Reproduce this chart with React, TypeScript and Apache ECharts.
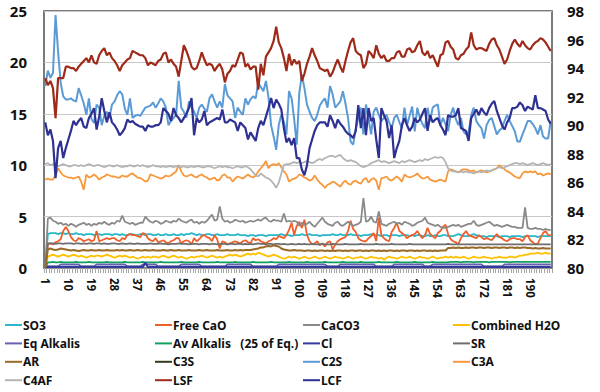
import React, { useEffect, useRef } from "react";
import * as echarts from "echarts";

// Sample numbers 1..198 on the category axis
const categories: string[] = Array.from({ length: 198 }, (_, i) => String(i + 1));

const so3 = [
  0, 3.3, 3.4, 3.4, 3.4, 3.3, 3.4, 3.4, 3.3, 3.4,
  3.3, 3.3, 3.4, 3.3, 3.3, 3.2, 3.3, 3.3, 3.3, 3.2,
  3.3, 3.3, 3.2, 3.3, 3.3, 3.3, 3.2, 3.3, 3.3, 3.2,
  3.3, 3.2, 3.2, 3.3, 3.3, 3.2, 3.2, 3.3, 3.3, 3.2,
  3.3, 3.3, 3.2, 3.2, 3.3, 3.2, 3.2, 3.3, 3.2, 3.2,
  3.3, 3.2, 3.2, 3.3, 3.2, 3.3, 3.3, 3.4, 3.3, 3.2,
  3.3, 3.2, 3.2, 3.3, 3.3, 3.2, 3.2, 3.3, 3.2, 3.2,
  3.2, 3.3, 3.2, 3.2, 3.2, 3.3, 3.2, 3.2, 3.2, 3.1,
  3.2, 3.2, 3.1, 3.2, 3.2, 3.2, 3.1, 3.2, 3.2, 3.2,
  3.2, 3.2, 3.3, 3.2, 3.2, 3.2, 3.1, 3.2, 3.2, 3.2,
  3.3, 3.2, 3.2, 3.3, 3.2, 3.2, 3.2, 3.1, 3.2, 3.2,
  3.2, 3.2, 3.3, 3.2, 3.2, 3.3, 3.2, 3.2, 3.2, 3.3,
  3.2, 3.2, 3.2, 3.1, 3.2, 3.2, 3.2, 3.3, 3.2, 3.2,
  3.2, 3.1, 3.2, 3.2, 3.1, 3.2, 3.2, 3.2, 3.1, 3.2,
  3.2, 3.2, 3.1, 3.2, 3.1, 3.2, 3.2, 3.1, 3.1, 3.2,
  3.1, 3.1, 3.2, 3.1, 3.1, 3.2, 3.2, 3.1, 3.1, 3.1,
  3.2, 3.3, 3.2, 3.1, 3.1, 3.1, 3.2, 3.3, 3.2, 3.1,
  3.1, 3.1, 3.0, 3.1, 3.1, 3.1, 3.1, 3.0, 3.1, 3.1,
  3.1, 3.0, 3.1, 3.1, 3.1, 3.1, 3.0, 3.1, 3.1, 3.1,
  3.1, 3.1, 3.0, 3.1, 3.1, 3.1, 3.1, 3.1,
];

const freeCaO = [
  0, 2.3, 2.4, 2.3, 2.5, 2.6, 2.8, 3.6, 4.0, 3.6,
  3.0, 2.7, 2.6, 2.9, 2.8, 2.6, 2.7, 2.8, 2.6, 2.7,
  3.6, 2.6, 2.7, 2.8, 2.9, 2.8, 2.9, 2.9, 2.7, 2.6,
  2.9, 2.8, 3.2, 3.3, 3.2, 3.2, 3.1, 3.0, 3.4, 3.3,
  2.9, 2.7, 2.6, 2.9, 2.5, 2.6, 2.7, 2.5, 2.4, 2.6,
  2.7, 2.9, 2.9, 2.4, 2.6, 2.7, 2.6, 2.3, 2.9, 2.6,
  2.8, 3.1, 3.2, 3.0, 2.9, 2.6, 3.2, 2.8, 1.9, 2.6,
  2.5, 2.3, 2.4, 2.5, 2.6, 2.5, 2.4, 2.6, 2.7, 2.5,
  2.4, 2.9, 2.7, 2.8, 2.6, 2.5, 2.4, 2.6, 2.7, 2.9,
  2.8, 3.1, 3.0, 2.9, 3.2, 3.7, 4.4, 3.2, 4.1, 4.5,
  3.9, 4.7, 3.2, 2.6, 2.3, 2.4, 2.6, 2.2, 2.4, 2.1,
  2.5, 2.6, 1.8, 2.3, 2.6, 2.8, 2.9, 3.0, 3.6, 4.6,
  3.8, 3.5, 2.9, 2.7, 2.6, 2.6, 2.9, 3.1, 3.4, 2.6,
  4.9, 3.2, 2.9, 2.7, 2.6, 3.5, 3.9, 4.4, 3.6, 3.4,
  3.2, 2.9, 3.1, 3.2, 3.3, 3.6, 3.2, 2.9, 3.2, 3.9,
  3.3, 3.1, 2.9, 3.4, 3.6, 4.0, 4.2, 3.3, 2.8, 2.6,
  2.5, 2.3, 2.9, 3.3, 3.6, 3.2, 3.1, 3.0, 2.9, 3.2,
  3.0, 2.8, 2.9, 2.8, 2.7, 3.0, 3.3, 3.0, 2.9, 2.7,
  2.6, 2.8, 2.9, 2.9, 2.8, 2.8, 2.6, 3.0, 3.2, 2.7,
  2.5, 2.3, 2.4, 2.9, 3.4, 3.6, 3.2, 3.2,
];

const caco3 = [
  0, 4.8, 4.9, 4.6, 4.5, 4.3, 4.4, 4.2, 4.3, 4.1,
  4.3, 4.2, 4.0, 4.2, 4.3, 4.4, 4.2, 4.3, 4.1, 4.3,
  4.2, 4.4, 4.3, 4.5, 4.3, 4.2, 4.4, 4.3, 4.6, 4.5,
  5.1, 4.5, 4.4, 4.3, 4.4, 4.2, 4.3, 4.4, 4.4, 5.0,
  4.7, 4.5, 4.4, 4.6, 4.5, 4.3, 4.4, 4.6, 4.5, 4.4,
  4.6, 4.5, 4.8, 4.6, 4.5, 4.4, 4.6, 4.7, 4.4, 4.5,
  4.3, 4.5, 4.4, 4.6, 4.9, 5.2, 4.6, 4.7, 6.0, 4.8,
  4.5, 4.6, 4.4, 4.5, 4.7, 4.6, 4.5, 4.6, 4.4, 4.5,
  4.6, 4.5, 4.6, 4.7, 4.6, 4.8, 4.9, 4.6, 4.5, 4.7,
  4.6, 4.6, 4.5, 5.3, 4.5, 4.6, 4.5, 4.6, 4.5, 4.1,
  4.4, 4.2, 4.3, 4.5, 4.2, 4.0, 4.3, 4.6, 4.9, 4.5,
  4.3, 4.2, 4.1, 4.4, 4.5, 4.2, 4.1, 4.3, 4.5, 4.3,
  4.1, 4.2, 4.3, 4.5, 6.8, 4.5, 4.6, 5.0, 4.5, 4.4,
  5.5, 4.3, 4.2, 4.1, 4.3, 4.4, 4.5, 4.3, 4.4, 4.2,
  4.5, 4.4, 4.3, 4.1, 4.2, 4.4, 4.5, 4.6, 4.9, 4.4,
  4.3, 4.2, 4.1, 4.2, 4.0, 3.9, 3.9, 4.0, 4.1, 4.2,
  4.1, 4.2, 4.0, 4.1, 4.2, 4.3, 4.3, 4.6, 4.2, 4.1,
  4.2, 4.3, 4.4, 4.5, 4.3, 4.1, 4.2, 4.1, 4.0, 4.1,
  4.2, 4.1, 4.0, 4.0, 3.9, 3.9, 3.9, 5.9, 3.9, 3.8,
  3.8, 3.9, 3.8, 3.8, 3.7, 3.8, 3.7, 3.7,
];

const combinedH2O = [
  0, 1.1, 1.2, 1.3, 1.2, 1.1, 1.2, 1.3, 1.2, 1.1,
  1.2, 1.3, 1.2, 1.1, 1.2, 1.1, 1.0, 1.1, 1.2, 1.1,
  1.2, 1.2, 1.1, 1.2, 1.3, 1.2, 1.1, 1.0, 1.1, 1.2,
  1.1, 1.2, 1.1, 1.0, 1.1, 1.0, 0.9, 1.0, 1.1, 1.0,
  1.1, 1.0, 1.1, 1.1, 1.0, 1.1, 1.2, 1.1, 1.0, 1.1,
  1.2, 1.1, 1.0, 1.1, 1.0, 0.9, 1.0, 1.1, 1.0, 1.1,
  1.1, 1.2, 1.1, 1.0, 1.1, 1.2, 1.1, 1.0, 1.1, 1.0,
  1.1, 1.2, 1.3, 1.2, 1.3, 1.2, 1.1, 1.2, 1.3, 1.4,
  1.3, 1.4, 1.3, 1.5, 1.4, 1.3, 1.2, 1.1, 1.2, 1.3,
  1.2, 1.1, 1.0, 0.9, 1.0, 1.1, 1.0, 1.1, 1.0, 0.9,
  1.0, 1.1, 1.0, 0.9, 1.0, 1.1, 1.0, 0.9, 1.0, 1.1,
  1.0, 0.9, 1.0, 1.1, 1.0, 1.0, 0.9, 1.0, 1.1, 1.0,
  0.9, 1.0, 1.0, 1.1, 1.0, 0.9, 1.0, 1.1, 1.0, 1.0,
  0.9, 1.0, 0.8, 1.0, 1.1, 1.0, 1.0, 0.9, 1.0, 1.1,
  1.0, 1.0, 1.1, 1.0, 0.9, 1.0, 1.1, 1.0, 1.0, 0.9,
  1.0, 1.1, 1.0, 0.9, 1.0, 1.0, 1.1, 1.0, 1.1, 1.0,
  1.1, 1.0, 1.0, 1.1, 1.0, 0.9, 1.0, 1.1, 1.0, 1.0,
  1.0, 1.1, 1.0, 1.0, 0.9, 1.0, 1.0, 1.1, 1.0, 1.0,
  1.0, 1.1, 1.1, 1.0, 1.1, 1.2, 1.2, 1.3, 1.3, 1.4,
  1.4, 1.4, 1.5, 1.4, 1.4, 1.5, 1.4, 1.4,
];

const eqAlkalis = [
  0, 0.15, 0.15, 0.15, 0.15, 0.15, 0.35, 0.35, 0.35, 0.35,
  0.35, 0.35, 0.35, 0.35, 0.15, 0.15, 0.15, 0.15, 0.15, 0.15,
  0.35, 0.35, 0.35, 0.35, 0.35, 0.35, 0.35, 0.35, 0.35, 0.35,
  0.35, 0.35, 0.15, 0.15, 0.15, 0.15, 0.15, 0.15, 0.35, 0.35,
  0.35, 0.35, 0.35, 0.35, 0.15, 0.15, 0.15, 0.15, 0.15, 0.15,
  0.15, 0.15, 0.15, 0.35, 0.35, 0.35, 0.35, 0.35, 0.35, 0.35,
  0.35, 0.15, 0.15, 0.15, 0.15, 0.15, 0.15, 0.15, 0.15, 0.15,
  0.15, 0.35, 0.35, 0.35, 0.35, 0.35, 0.35, 0.35, 0.35, 0.35,
  0.35, 0.15, 0.15, 0.15, 0.15, 0.15, 0.15, 0.15, 0.15, 0.15,
  0.15, 0.35, 0.35, 0.35, 0.35, 0.35, 0.35, 0.35, 0.35, 0.35,
  0.35, 0.35, 0.35, 0.35, 0.35, 0.35, 0.35, 0.35, 0.35, 0.35,
  0.15, 0.15, 0.15, 0.15, 0.15, 0.35, 0.35, 0.35, 0.35, 0.35,
  0.35, 0.35, 0.35, 0.35, 0.35, 0.35, 0.35, 0.35, 0.35, 0.15,
  0.15, 0.15, 0.15, 0.15, 0.15, 0.15, 0.35, 0.35, 0.35, 0.35,
  0.35, 0.35, 0.35, 0.35, 0.35, 0.35, 0.35, 0.35, 0.15, 0.15,
  0.15, 0.35, 0.35, 0.35, 0.35, 0.35, 0.35, 0.35, 0.35, 0.35,
  0.35, 0.35, 0.35, 0.35, 0.35, 0.35, 0.35, 0.35, 0.35, 0.35,
  0.35, 0.15, 0.15, 0.15, 0.15, 0.15, 0.15, 0.15, 0.15, 0.35,
  0.35, 0.35, 0.35, 0.35, 0.35, 0.35, 0.35, 0.35, 0.35, 0.35,
  0.35, 0.35, 0.35, 0.35, 0.35, 0.35, 0.35, 0.35,
];

const avAlkalis = [
  0, 0.55, 0.55, 0.6, 0.55, 0.55, 0.6, 0.55, 0.55, 0.55,
  0.55, 0.55, 0.6, 0.55, 0.55, 0.55, 0.55, 0.6, 0.55, 0.55,
  0.55, 0.55, 0.55, 0.55, 0.6, 0.55, 0.55, 0.55, 0.55, 0.55,
  0.55, 0.6, 0.55, 0.55, 0.55, 0.55, 0.55, 0.55, 0.6, 0.55,
  0.55, 0.55, 0.55, 0.55, 0.55, 0.6, 0.55, 0.55, 0.55, 0.55,
  0.55, 0.55, 0.55, 0.6, 0.55, 0.55, 0.55, 0.55, 0.55, 0.55,
  0.6, 0.55, 0.55, 0.55, 0.55, 0.55, 0.55, 0.6, 0.55, 0.55,
  0.55, 0.55, 0.55, 0.55, 0.6, 0.55, 0.55, 0.55, 0.55, 0.55,
  0.55, 0.6, 0.55, 0.55, 0.55, 0.55, 0.55, 0.55, 0.6, 0.55,
  0.55, 0.55, 0.55, 0.55, 0.55, 0.6, 0.55, 0.55, 0.55, 0.55,
  0.55, 0.55, 0.6, 0.55, 0.55, 0.55, 0.55, 0.55, 0.55, 0.6,
  0.55, 0.55, 0.55, 0.55, 0.55, 0.55, 0.6, 0.55, 0.55, 0.55,
  0.55, 0.55, 0.55, 0.6, 0.55, 0.55, 0.55, 0.55, 0.55, 0.55,
  0.6, 0.55, 0.55, 0.55, 0.55, 0.55, 0.55, 0.6, 0.55, 0.55,
  0.55, 0.55, 0.55, 0.55, 0.6, 0.55, 0.55, 0.55, 0.55, 0.55,
  0.55, 0.6, 0.55, 0.55, 0.55, 0.55, 0.55, 0.55, 0.6, 0.6,
  0.6, 0.6, 0.55, 0.6, 0.6, 0.6, 0.6, 0.55, 0.6, 0.6,
  0.6, 0.6, 0.6, 0.55, 0.6, 0.6, 0.6, 0.6, 0.6, 0.6,
  0.6, 0.55, 0.6, 0.6, 0.6, 0.6, 0.6, 0.6, 0.6, 0.6,
  0.6, 0.6, 0.6, 0.6, 0.6, 0.6, 0.6, 0.6,
];

const cl = [
  0.1, 0.1, 0.1, 0.1, 0.1, 0.1, 0.1, 0.1, 0.1, 0.1,
  0.1, 0.1, 0.1, 0.1, 0.1, 0.1, 0.1, 0.1, 0.1, 0.1,
  0.1, 0.1, 0.1, 0.1, 0.1, 0.1, 0.1, 0.1, 0.1, 0.1,
  0.1, 0.1, 0.1, 0.1, 0.1, 0.1, 0.1, 0.1, 0.1, 0.5,
  0.1, 0.1, 0.1, 0.1, 0.1, 0.1, 0.1, 0.1, 0.1, 0.1,
  0.1, 0.1, 0.1, 0.1, 0.1, 0.1, 0.1, 0.1, 0.1, 0.1,
  0.1, 0.1, 0.1, 0.1, 0.1, 0.1, 0.1, 0.1, 0.1, 0.1,
  0.1, 0.1, 0.1, 0.1, 0.1, 0.1, 0.1, 0.1, 0.1, 0.1,
  0.1, 0.1, 0.1, 0.1, 0.1, 0.1, 0.1, 0.1, 0.1, 0.1,
  0.1, 0.1, 0.1, 0.1, 0.1, 0.1, 0.1, 0.1, 0.1, 0.1,
  0.1, 0.1, 0.1, 0.1, 0.1, 0.1, 0.1, 0.1, 0.1, 0.1,
  0.1, 0.1, 0.1, 0.1, 0.1, 0.1, 0.1, 0.1, 0.1, 0.1,
  0.1, 0.1, 0.1, 0.1, 0.1, 0.1, 0.1, 0.1, 0.1, 0.1,
  0.1, 0.1, 0.1, 0.1, 0.1, 0.1, 0.1, 0.1, 0.1, 0.1,
  0.1, 0.1, 0.1, 0.1, 0.1, 0.1, 0.1, 0.1, 0.1, 0.1,
  0.1, 0.1, 0.1, 0.1, 0.1, 0.1, 0.1, 0.1, 0.1, 0.1,
  0.1, 0.1, 0.1, 0.1, 0.1, 0.1, 0.1, 0.1, 0.1, 0.1,
  0.1, 0.1, 0.1, 0.1, 0.1, 0.1, 0.1, 0.1, 0.1, 0.1,
  0.1, 0.1, 0.1, 0.1, 0.1, 0.1, 0.1, 0.1, 0.1, 0.1,
  0.1, 0.1, 0.1, 0.1, 0.1, 0.1, 0.1, 0.1,
];

const sr = [
  0, 2.4, 2.4, 2.4, 2.35, 2.4, 2.4, 2.35, 2.4, 2.4,
  2.4, 2.35, 2.4, 2.4, 2.35, 2.4, 2.35, 2.4, 2.4, 2.35,
  2.4, 2.4, 2.35, 2.4, 2.35, 2.35, 2.4, 2.4, 2.35, 2.35,
  2.4, 2.35, 2.35, 2.4, 2.35, 2.35, 2.4, 2.35, 2.35, 2.35,
  2.35, 2.4, 2.35, 2.35, 2.35, 2.4, 2.35, 2.35, 2.3, 2.35,
  2.35, 2.35, 2.4, 2.35, 2.35, 2.35, 2.3, 2.35, 2.35, 2.35,
  2.3, 2.35, 2.35, 2.35, 2.3, 2.35, 2.35, 2.3, 2.35, 2.35,
  2.35, 2.3, 2.35, 2.35, 2.3, 2.35, 2.35, 2.3, 2.35, 2.3,
  2.35, 2.3, 2.35, 2.4, 2.35, 2.35, 2.3, 2.35, 2.35, 2.3,
  2.35, 2.35, 2.3, 2.35, 2.3, 2.3, 2.35, 2.3, 2.3, 2.35,
  2.3, 2.35, 2.3, 2.3, 2.35, 2.3, 2.3, 2.3, 2.35, 2.3,
  2.3, 2.3, 2.35, 2.3, 2.3, 2.3, 2.3, 2.35, 2.3, 2.3,
  2.3, 2.3, 2.3, 2.35, 2.3, 2.3, 2.3, 2.3, 2.3, 2.35,
  2.3, 2.3, 2.3, 2.3, 2.3, 2.35, 2.3, 2.3, 2.3, 2.3,
  2.3, 2.3, 2.35, 2.3, 2.3, 2.3, 2.3, 2.3, 2.3, 2.3,
  2.3, 2.3, 2.3, 2.3, 2.3, 2.3, 2.3, 2.35, 2.3, 2.3,
  2.3, 2.3, 2.3, 2.3, 2.3, 2.3, 2.3, 2.3, 2.3, 2.3,
  2.3, 2.3, 2.3, 2.3, 2.3, 2.3, 2.3, 2.3, 2.3, 2.3,
  2.3, 2.3, 2.3, 2.3, 2.3, 2.3, 2.3, 2.3, 2.3, 2.3,
  2.3, 2.3, 2.3, 2.3, 2.3, 2.3, 2.3, 2.3,
];

const ar = [
  0, 1.8, 1.9, 1.8, 1.75, 1.8, 1.9, 1.85, 1.8, 1.75,
  1.7, 1.75, 1.7, 1.65, 1.7, 1.75, 1.7, 1.7, 1.75, 1.7,
  1.7, 1.75, 1.7, 1.7, 1.75, 1.7, 1.7, 1.7, 1.75, 1.7,
  1.75, 1.7, 1.7, 1.75, 1.7, 1.7, 1.75, 1.7, 1.7, 1.75,
  1.7, 1.7, 1.75, 1.7, 1.7, 1.7, 1.75, 1.7, 1.7, 1.75,
  1.7, 1.7, 1.75, 1.7, 1.7, 1.7, 1.75, 1.7, 1.7, 1.7,
  1.75, 1.7, 1.7, 1.75, 1.7, 1.7, 1.7, 1.75, 1.7, 1.7,
  1.7, 1.75, 1.7, 1.7, 1.75, 1.7, 1.75, 1.7, 1.75, 1.75,
  1.75, 1.8, 1.85, 1.9, 2.0, 2.0, 2.1, 2.15, 2.1, 2.2,
  2.15, 2.1, 1.9, 1.8, 1.75, 1.7, 1.7, 1.75, 1.7, 1.7,
  1.7, 1.65, 1.7, 1.7, 1.65, 1.7, 1.65, 1.7, 1.7, 1.65,
  1.7, 1.65, 1.7, 1.65, 1.7, 1.7, 1.65, 1.7, 1.65, 1.7,
  1.7, 1.65, 1.7, 1.7, 1.65, 1.7, 1.65, 1.7, 1.7, 1.65,
  1.7, 1.65, 1.7, 1.65, 1.7, 1.7, 1.65, 1.7, 1.65, 1.7,
  1.7, 1.65, 1.7, 1.7, 1.65, 1.7, 1.65, 1.7, 1.7, 1.65,
  1.7, 1.65, 1.7, 1.65, 1.7, 1.7, 1.7, 1.95, 1.95, 2.0,
  1.95, 2.0, 1.95, 1.95, 2.0, 1.95, 2.0, 2.0, 1.95, 2.0,
  2.0, 1.95, 2.0, 2.0, 1.95, 2.0, 2.0, 1.95, 2.0, 2.0,
  1.95, 2.0, 2.0, 1.95, 2.0, 1.95, 2.0, 2.0, 1.95, 1.95,
  1.9, 1.95, 1.9, 1.9, 1.95, 1.9, 1.9, 1.9,
];

// C3S lies far outside both axis ranges in the reference, so no point of it is visible
const c3s: number[] = [];

const c2s = [
  17.7, 19.2, 18.5, 19.0, 24.6, 21.0, 18.0, 16.7, 16.4, 16.4,
  16.5, 16.3, 16.2, 17.5, 16.8, 16.0, 14.9, 16.5, 14.5, 14.1,
  15.9, 15.6, 13.9, 14.8, 15.2, 14.6, 15.9, 16.2, 16.8, 17.2,
  16.9, 15.5, 14.9, 16.5, 14.6, 14.8, 14.9, 14.8, 15.2, 15.6,
  15.7, 15.8, 16.1, 15.6, 16.0, 16.5, 16.2, 15.6, 13.9, 14.3,
  14.6, 14.9, 18.2, 15.6, 15.2, 14.6, 16.2, 15.6, 15.2, 14.6,
  15.6, 15.9, 15.5, 15.2, 16.5, 16.9, 16.2, 15.6, 16.2, 15.6,
  17.9, 16.8, 16.5, 16.2, 14.6, 15.6, 15.2, 14.9, 16.5, 15.9,
  16.4, 16.7, 16.5, 18.0, 17.6, 17.2, 18.2, 16.6, 13.9, 12.8,
  11.5, 13.9, 14.9, 14.2, 13.0, 17.2, 16.5, 14.5, 12.0, 17.0,
  18.8, 17.5, 15.9, 15.2, 14.6, 14.3, 14.9, 15.8, 16.2, 16.5,
  15.6, 17.7, 16.9, 15.6, 15.9, 16.2, 17.2, 16.0, 14.6, 12.3,
  12.0, 13.5, 14.6, 15.6, 13.0, 15.9, 14.5, 13.0, 15.2, 15.6,
  14.9, 14.3, 14.6, 14.9, 14.2, 13.6, 14.6, 14.9, 14.2, 13.6,
  15.6, 13.9, 14.8, 15.7, 13.3, 15.6, 14.6, 14.0, 13.6, 15.6,
  14.3, 15.6, 15.8, 15.9, 13.9, 14.6, 14.0, 13.3, 14.9, 15.6,
  14.5, 13.9, 14.6, 13.3, 13.0, 13.2, 14.9, 15.6, 14.3, 13.9,
  13.6, 12.6, 13.9, 14.4, 14.6, 13.8, 13.0, 13.4, 13.6, 14.3,
  14.9, 14.3, 13.8, 13.3, 12.3, 12.3, 13.0, 13.6, 14.3, 14.3,
  14.0, 13.6, 13.0, 13.9, 12.8, 12.6, 12.6, 14.3,
];

const c3a = [
  8.6, 8.7, 8.6, 8.6, 9.0, 9.7, 9.3, 9.0, 8.9, 8.8,
  8.8, 8.7, 8.8, 8.9, 8.4, 7.6, 9.1, 8.8, 8.9, 9.1,
  8.9, 8.6, 8.8, 8.9, 9.1, 9.0, 8.9, 8.9, 8.8, 8.8,
  9.0, 8.9, 8.9, 9.1, 9.2, 9.0, 8.8, 8.75, 8.6, 8.4,
  8.5, 9.1, 9.0, 8.9, 8.8, 8.7, 8.8, 9.0, 8.9, 9.0,
  9.2, 9.4, 10.0, 9.4, 9.0, 8.9, 9.0, 9.1, 8.9, 8.8,
  9.0, 9.1, 8.9, 8.8, 8.6, 8.7, 8.8, 8.5, 8.6, 9.0,
  9.1, 8.8, 8.8, 8.4, 8.7, 8.9, 8.8, 8.7, 8.9, 9.1,
  8.9, 8.8, 9.0, 9.4, 9.7, 10.0, 10.4, 9.7, 10.0, 10.1,
  10.0, 10.2, 9.8, 9.4, 9.1, 8.4, 8.6, 8.7, 8.8, 9.1,
  9.0, 8.8, 8.7, 8.5, 8.6, 9.0, 8.6, 8.3, 8.1, 7.8,
  8.1, 8.2, 8.4, 8.3, 8.1, 7.9, 8.3, 8.5, 8.2, 8.1,
  8.4, 8.5, 8.3, 8.2, 8.6, 8.75, 8.3, 8.6, 8.75, 8.5,
  7.6, 8.75, 8.8, 8.9, 8.6, 8.5, 8.7, 8.9, 8.7, 8.4,
  9.1, 8.9, 8.8, 8.9, 9.0, 9.2, 8.9, 8.7, 8.75, 8.9,
  8.6, 8.5, 8.4, 8.5, 8.6, 8.5, 8.4, 9.4, 9.6, 9.5,
  9.4, 9.3, 9.5, 9.6, 9.6, 9.5, 9.4, 9.5, 9.3, 9.4,
  9.5, 9.4, 9.3, 9.4, 9.5, 9.6, 9.7, 10.0, 9.8, 9.6,
  9.4, 9.3, 9.1, 8.9, 8.8, 8.75, 9.2, 9.4, 9.3, 9.4,
  9.3, 9.4, 9.1, 9.2, 9.0, 9.1, 9.2, 9.1,
];

const c4af = [
  10.1, 10.2, 10.0, 10.1, 10.0, 9.9, 10.0, 10.1, 10.0, 9.9,
  9.9, 10.0, 10.0, 9.9, 10.0, 9.9, 10.0, 10.1, 10.0, 9.9,
  10.0, 10.0, 9.9, 9.8, 9.9, 10.0, 9.9, 9.9, 10.0, 9.9,
  9.8, 9.9, 9.9, 10.0, 9.9, 9.9, 10.0, 9.9, 10.0, 9.9,
  9.8, 9.9, 10.0, 9.9, 9.9, 9.8, 9.9, 9.8, 9.9, 9.9,
  9.8, 9.9, 9.9, 9.8, 9.9, 9.8, 9.8, 9.9, 9.8, 9.9,
  9.9, 9.8, 9.8, 9.9, 9.9, 9.8, 9.7, 9.8, 9.9, 9.8,
  9.9, 9.8, 9.8, 9.7, 9.8, 9.9, 9.8, 9.8, 9.9, 9.8,
  9.6, 9.3, 9.0, 8.9, 9.2, 9.0, 8.8, 8.7, 8.5, 8.2,
  7.8, 8.3, 9.2, 10.0, 10.1, 10.1, 10.2, 10.3, 10.2, 10.3,
  10.2, 10.3, 10.4, 10.3, 10.2, 10.3, 10.5, 10.6, 10.5, 10.7,
  10.8, 10.9, 10.9, 10.8, 10.9, 11.0, 10.7, 10.5, 10.4, 10.5,
  10.4, 10.3, 10.1, 9.9, 9.8, 9.9, 10.0, 10.2, 10.3, 10.4,
  10.5, 10.3, 10.4, 10.3, 10.2, 10.3, 10.4, 10.3, 10.2, 10.4,
  10.3, 10.4, 10.5, 10.4, 10.3, 10.4, 10.5, 10.4, 10.6, 10.5,
  10.6, 10.7, 10.8, 10.7, 10.8, 10.7, 10.3, 9.7, 9.5, 9.4,
  9.4, 9.3, 9.4, 9.3, 9.4, 9.3, 9.3, 9.2, 9.3, 9.4,
  9.3, 9.4, 9.5, 9.4, 9.5, 9.6, 9.7, 9.8, 9.7, 9.8,
  9.9, 10.0, 10.1, 10.2, 10.2, 10.1, 10.2, 10.1, 10.0, 10.1,
  10.2, 10.1, 10.0, 10.1, 10.2, 10.1, 10.0, 10.1,
];

const lsf = [
  93.3, 92.8, 93.1, 92.6, 90.5, 93.3, 93.3, 93.3, 94.1, 94.1,
  94.0, 94.0, 93.8, 94.1, 94.3, 94.5, 94.7, 94.4, 94.9, 94.4,
  94.3, 94.9, 95.2, 95.4, 94.9, 95.1, 94.7, 94.5, 94.2, 93.8,
  94.2, 94.4, 94.6, 94.7, 95.2, 95.1, 95.0, 94.9, 94.9, 94.7,
  94.2, 94.4, 94.3, 94.2, 94.5, 94.6, 95.0, 95.1, 94.4, 94.6,
  94.3, 94.1, 93.4, 94.5, 95.6, 95.2, 94.7, 94.1, 93.9, 94.0,
  94.5, 95.1, 94.6, 94.2, 94.3, 94.2, 93.8, 94.1, 94.3, 93.9,
  93.0, 93.6, 93.8, 94.2, 94.1, 94.6, 95.1, 95.0, 94.1, 94.3,
  93.9, 94.1, 94.1, 92.5, 94.3, 93.5, 94.8, 95.1, 95.4, 95.9,
  96.9, 95.8, 95.4, 94.7, 93.8, 95.0, 94.2, 94.6, 94.3, 94.5,
  93.1, 93.6, 94.3, 94.8, 95.4, 94.9, 94.5, 94.0, 93.9, 93.8,
  93.9, 93.4, 93.7, 94.2, 94.6, 94.1, 93.7, 94.5, 95.2, 95.8,
  96.1, 95.2, 95.0, 94.9, 94.0, 94.3, 95.2, 95.0, 94.7, 95.6,
  95.0, 94.7, 94.9, 94.5, 94.5, 94.7, 94.7, 95.1, 95.2, 94.8,
  94.8, 95.3, 95.4, 95.1, 95.2, 95.6, 95.9, 95.1, 94.9, 95.2,
  94.7, 94.9, 94.5, 94.1, 94.9, 95.0, 95.8, 95.9, 95.5, 95.3,
  94.7, 94.6, 94.9, 95.0, 95.3, 95.5, 96.5, 95.6, 95.3, 95.4,
  95.4, 95.3, 95.2, 95.7, 96.0, 96.1, 95.6, 95.3, 94.8, 94.3,
  94.6, 95.2, 95.7, 96.0, 95.7, 95.5, 95.9, 95.6, 95.4, 95.3,
  95.6, 95.8, 95.9, 96.1, 96.0, 95.8, 95.5, 95.2,
];

const lcf = [
  90.2, 89.3, 89.7, 88.9, 86.3, 88.4, 88.9, 87.7, 88.4, 89.0,
  89.6, 90.3, 90.0, 90.3, 90.5, 89.9, 89.8, 90.5, 90.8, 91.2,
  89.7, 90.6, 91.9, 91.0, 90.2, 90.9, 90.2, 90.0, 89.7, 89.3,
  89.5, 89.8, 90.4, 90.2, 90.3, 90.1, 90.0, 89.9, 89.9, 89.6,
  90.0, 89.9, 89.9, 90.0, 90.0, 90.2, 91.2, 91.0, 90.8, 90.3,
  91.2, 90.7, 90.5, 90.2, 90.5, 90.8, 91.2, 91.9, 89.3, 90.5,
  90.2, 90.4, 91.0, 90.0, 90.2, 90.3, 90.4, 90.5, 90.4, 91.1,
  90.2, 90.2, 90.4, 90.3, 90.2, 89.6, 90.2, 90.0, 89.8, 89.0,
  89.5, 89.2, 88.9, 89.8, 90.3, 90.0, 90.6, 91.2, 91.9, 91.2,
  91.8, 91.5, 91.1, 89.8, 88.8, 89.1, 88.6, 89.1, 87.7, 87.7,
  86.9, 86.5, 87.2, 88.4, 89.0, 89.6, 90.0, 90.2, 90.2, 90.2,
  89.9, 90.7, 90.3, 89.8, 90.4, 90.1, 89.9, 89.6, 89.4, 89.3,
  89.1, 89.6, 91.4, 89.8, 91.2, 89.3, 91.2, 90.3, 90.5, 89.0,
  87.7, 91.2, 90.7, 90.3, 89.1, 90.0, 87.7, 88.4, 88.9, 90.0,
  90.5, 90.0, 89.6, 89.9, 90.5, 90.2, 90.4, 90.8, 91.2, 89.6,
  90.7, 90.2, 90.4, 90.5, 90.0, 89.7, 89.3, 90.7, 90.6, 90.6,
  90.7, 91.2, 89.8, 89.7, 89.6, 88.9, 90.5, 90.8, 91.1, 90.7,
  91.2, 90.9, 90.7, 91.2, 91.5, 91.7, 91.0, 90.5, 90.0, 89.7,
  90.2, 90.5, 91.2, 91.2, 91.3, 91.6, 91.4, 91.0, 91.3, 91.2,
  91.1, 92.1, 91.2, 91.2, 91.1, 91.0, 90.4, 90.1,
];

const leftTicks = { min: 0, max: 25, interval: 5 };
const rightTicks = { min: 80, max: 98, interval: 2 };

const AV_NAME = "Av Alkalis   (25 of Eq.)";

const seriesDefs = [
  { name: "SO3", data: so3, color: "#2bb7c9", axis: 0, width: 1.8 },
  { name: "Free CaO", data: freeCaO, color: "#ef5f2b", axis: 0, width: 1.8 },
  { name: "CaCO3", data: caco3, color: "#8a8a8a", axis: 0, width: 1.8 },
  { name: "Combined H2O", data: combinedH2O, color: "#ffc000", axis: 0, width: 1.8 },
  { name: "Eq Alkalis", data: eqAlkalis, color: "#6a5fb0", axis: 0, width: 1.8 },
  { name: AV_NAME, data: avAlkalis, color: "#12a060", axis: 0, width: 1.8 },
  { name: "Cl", data: cl, color: "#323a9c", axis: 0, width: 2.2 },
  { name: "SR", data: sr, color: "#6e6e6e", axis: 0, width: 1.8 },
  { name: "AR", data: ar, color: "#9a6a28", axis: 0, width: 2 },
  { name: "C3S", data: c3s, color: "#363a1c", axis: 1, width: 1.8 },
  { name: "C2S", data: c2s, color: "#5b9bd5", axis: 0, width: 2 },
  { name: "C3A", data: c3a, color: "#f7983a", axis: 0, width: 1.8 },
  { name: "C4AF", data: c4af, color: "#b4b4b4", axis: 0, width: 1.8 },
  { name: "LSF", data: lsf, color: "#9e2a1a", axis: 1, width: 2.2 },
  { name: "LCF", data: lcf, color: "#2e3192", axis: 1, width: 2.2 },
];

const legendColumns = [
  ["SO3", "Eq Alkalis", "AR", "C4AF"],
  ["Free CaO", AV_NAME, "C3S", "LSF"],
  ["CaCO3", "Cl", "C2S", "LCF"],
  ["Combined H2O", "SR", "C3A"],
];
const legendLefts = [5, 155, 303, 453];

const FONT = "'Noto Sans', 'DejaVu Sans', sans-serif";

export default function App() {
  const ref = useRef<HTMLDivElement>(null);

  useEffect(() => {
    if (!ref.current) return;
    const chart = echarts.init(ref.current, undefined, { renderer: "svg" });
    const option: any = {
      animation: false,
      grid: {
        left: 44,
        right: 48,
        top: 11,
        bottom: 124,
        show: true,
        borderColor: "#505050",
        borderWidth: 1.5,
      },
      legend: legendColumns.map((col, k) => ({
        data: col,
        orient: "vertical",
        left: legendLefts[k],
        top: 318,
        padding: 0,
        itemWidth: 17,
        itemHeight: 2,
        itemGap: 4.4,
        icon: "rect",
        selectedMode: false,
        textStyle: {
          fontFamily: FONT,
          fontSize: 12,
          fontWeight: "bold",
          color: "#111111",
          lineHeight: 14,
          padding: [0, 0, 0, -4],
        },
      })),
      xAxis: {
        type: "category",
        data: categories,
        boundaryGap: true,
        axisLine: { show: true, lineStyle: { color: "#8c8c8c", width: 1 } },
        axisTick: { show: true, interval: 0, length: 5, lineStyle: { color: "#a6a6a6" } },
        axisLabel: {
          interval: 8,
          rotate: -90,
          margin: 10,
          fontFamily: FONT,
          fontSize: 11.5,
          fontWeight: "bold",
          color: "#111111",
        },
        splitLine: { show: false },
      },
      yAxis: [
        {
          type: "value",
          ...leftTicks,
          axisLine: { show: false },
          axisTick: { show: false },
          axisLabel: { margin: 17, fontFamily: FONT, fontSize: 15, fontWeight: "bold", color: "#111111" },
          splitLine: { show: true, lineStyle: { color: "#c8c8c8", width: 1 } },
        },
        {
          type: "value",
          position: "right",
          ...rightTicks,
          axisLine: { show: false },
          axisTick: { show: false },
          axisLabel: { margin: 15, fontFamily: FONT, fontSize: 15, fontWeight: "bold", color: "#111111" },
          splitLine: { show: false },
        },
      ],
      series: seriesDefs.map((s) => ({
        name: s.name,
        type: "line",
        yAxisIndex: s.axis,
        data: s.data,
        symbol: "none",
        showSymbol: false,
        clip: true,
        color: s.color,
        lineStyle: { color: s.color, width: s.width },
        itemStyle: { color: s.color },
      })),
    };
    chart.setOption(option);
    return () => chart.dispose();
  }, []);

  return <div ref={ref} style={{ width: 600, height: 392, position: "absolute", left: 0, top: 0 }} />;
}
